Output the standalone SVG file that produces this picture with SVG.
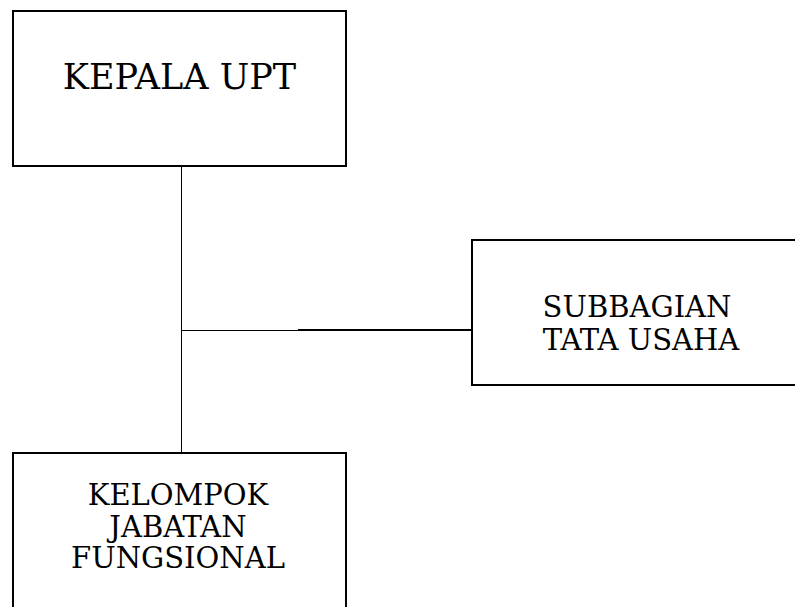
<svg xmlns="http://www.w3.org/2000/svg" width="795" height="607" viewBox="0 0 795 607">
<style>
.box{fill:#fff;stroke:#000;stroke-width:2}
.t{font-family:"DejaVu Serif","Liberation Serif",serif;fill:#000;text-anchor:middle}
.big{font-size:35px}
.mid{font-size:29px}
</style>
<rect width="795" height="607" fill="#fff"/>
<g id="connectors" stroke="#000" fill="none">
<line x1="181.5" y1="166" x2="181.5" y2="453" stroke-width="1"/>
<line x1="181.5" y1="330.5" x2="299" y2="330.5" stroke-width="1"/>
<line x1="298" y1="330" x2="472" y2="330" stroke-width="2"/>
</g>
<g id="kepala">
<rect class="box" x="13" y="11" width="333" height="155"/>
<text class="t big" x="179.5" y="89">KEPALA UPT</text>
</g>
<g id="subbagian">
<rect class="box" x="472" y="240" width="330" height="145"/>
<text class="t mid" x="637" y="317">SUBBAGIAN</text>
<text class="t mid" x="641" y="350">TATA USAHA</text>
</g>
<g id="kelompok">
<rect class="box" x="13" y="453" width="333" height="170"/>
<text class="t mid" x="178" y="505">KELOMPOK</text>
<text class="t mid" x="178" y="537">JABATAN</text>
<text class="t mid" x="178" y="568">FUNGSIONAL</text>
</g>
</svg>
